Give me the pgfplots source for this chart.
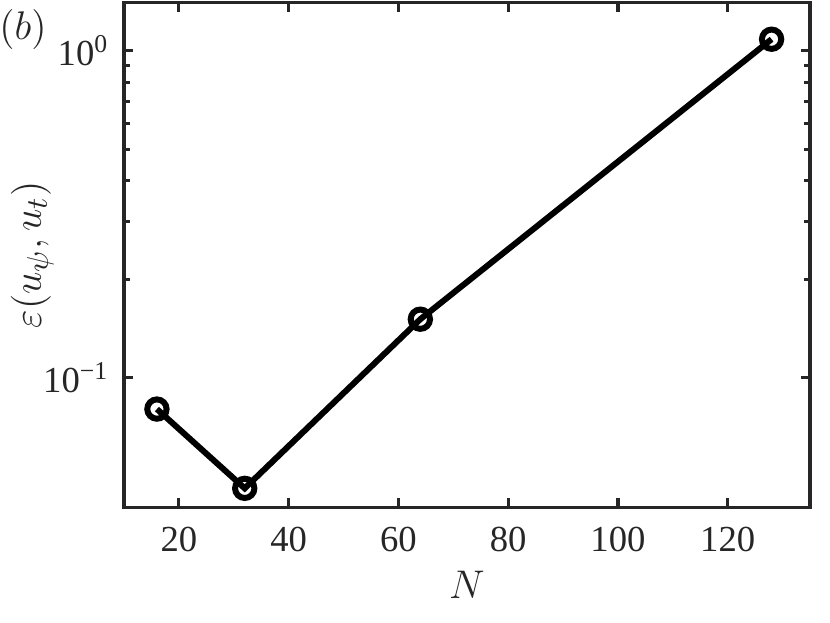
\documentclass[border=0pt]{standalone}
\usepackage{fontspec}
\setmainfont{Liberation Serif}
\usepackage{pgfplots}
\pgfplotsset{compat=1.18}
\definecolor{axgray}{rgb}{0.15,0.15,0.15}
\begin{document}
\begin{tikzpicture}
\begin{axis}[
  name=ax,
  scale only axis,
  width=205.8pt, height=151.4pt,
  ymode=log,
  xmin=10, xmax=135,
  ymin=0.0402, ymax=1.404,
  xtick={20,40,60,80,100,120},
  ytick={0.1,1},
  yticklabels={{10\textsuperscript{−1}},{10\textsuperscript{0}}},
  xtick pos=both, ytick pos=both,
  tick align=inside,
  major tick length=2.8pt,
  minor tick length=1.7pt,
  axis line style={axgray, line width=0.95pt},
  every tick/.style={axgray, line width=0.95pt},
  every minor tick/.style={axgray, line width=0.95pt},
  tick label style={font=\fontsize{11}{13}\selectfont, text=axgray},
  /pgf/number format/assume math mode=true,
  xticklabel style={yshift=-2.5pt},
  yticklabel style={xshift=-1pt},
  xlabel={$N$},
  ylabel={$\varepsilon(u_\psi,u_t)$},
  label style={font=\fontsize{12.5}{14}\selectfont, text=axgray},
  xlabel style={yshift=1pt},
  ylabel style={at={([xshift=-27.5pt]axis description cs:0,0.5)}, anchor=center},
]
\addplot[black, line width=1.8pt, mark=o, mark size=2.9pt, mark options={line width=1.8pt}]
  coordinates {(16,0.0802) (32,0.0459) (64,0.151) (128,1.084)};
\end{axis}
\node[font=\fontsize{12}{14}\selectfont, text=axgray] at ([shift={(-30.3pt,-8pt)}]ax.north west) {$(b)$};
\pgfresetboundingbox
\useasboundingbox ([shift={(-37.2pt,-34.5pt)}]ax.south west) rectangle ([shift={(6pt,0.75pt)}]ax.north east);
\end{tikzpicture}
\end{document}
